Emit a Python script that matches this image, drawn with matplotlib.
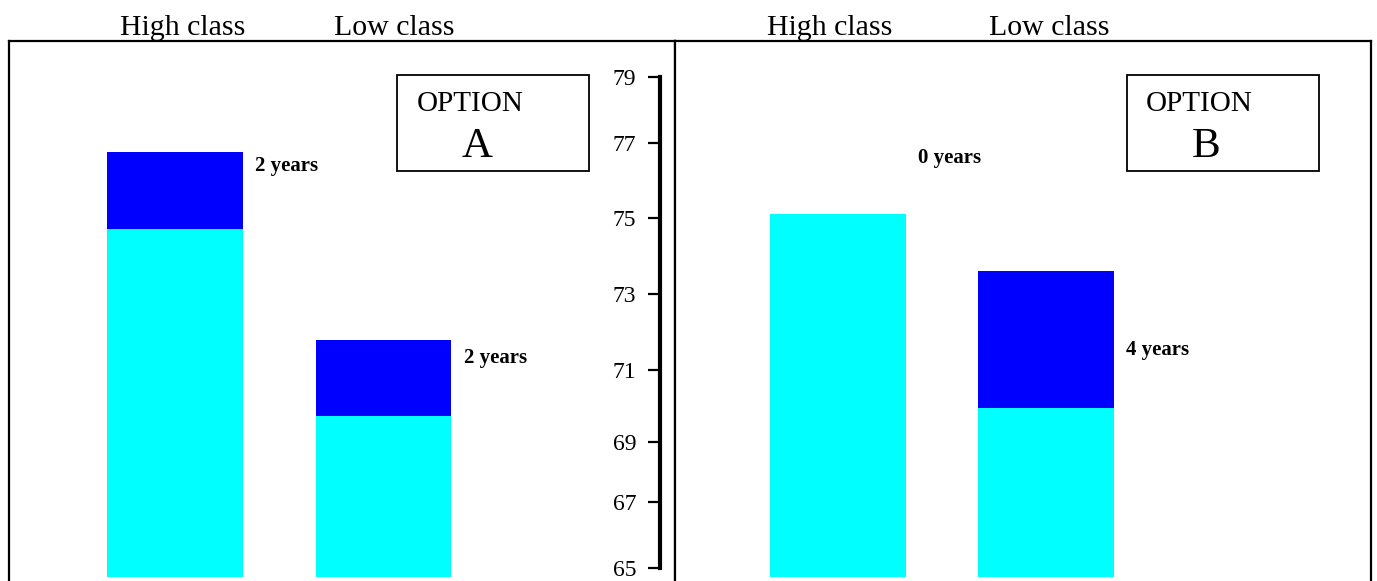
import numpy as np
import matplotlib
matplotlib.use('Agg')
import matplotlib.pyplot as plt
from matplotlib.patches import Rectangle

plt.rcParams['font.family'] = ['Liberation Serif', 'DejaVu Serif']

# data (life expectancy, years)
classes = ['High class', 'Low class']
base_a = [74.7, 69.8]      # option A, before gain
gain_a = [2.05, 2.0]
base_b = [75.1, 70.0]      # option B
gain_b = [0.0, 3.6]
gain_labels_a = ['2 years', '2 years']
gain_labels_b = ['0 years', '4 years']
label_y_a = [76.37, 71.32]
label_y_b = [76.58, 71.53]
floor = 65.55

tick_labels = [65, 67, 69, 71, 73, 75, 77, 79]
tick_pos = [65.79, 67.53, 69.1, 71.0, 73.0, 75.0, 76.97, 78.71]

W, H = 1377, 581
fig = plt.figure(figsize=(W / 100, H / 100), dpi=100)

ylim = (65.447, 79.658)
top = (H - 41) / H
cyan = '#00FFFF'
blue = '#0000FF'
width = 0.65

def panel(x0, x1, base, gain, labels, label_y, xlim, name_shift):
    ax = fig.add_axes([x0 / W, 0, (x1 - x0) / W, top])
    x = np.arange(len(classes))
    b = np.array(base)
    ax.bar(x, b - floor, bottom=floor, width=width, color=cyan, linewidth=0)
    ax.bar(x, gain, bottom=b, width=width, color=blue, linewidth=0)
    for xi, lab, ly in zip(x, labels, label_y):
        ax.text(xi + width / 2 + 0.06, ly, lab, fontsize=15, fontweight='bold',
                ha='left', va='center')
    # class names above the frame
    for xi, name, dx in zip(x, classes, name_shift):
        ax.text(xi + dx, 1.0, name, fontsize=21.5, ha='center', va='bottom',
                transform=ax.get_xaxis_transform())
    ax.set_ylim(*ylim)
    ax.set_xlim(*xlim)
    ax.set_yticks([])
    ax.set_xticks([])
    ax.spines['bottom'].set_visible(False)
    for s in ['left', 'right', 'top']:
        ax.spines[s].set_linewidth(1.6)
    return ax

ax1 = panel(9, 675, base_a, gain_a, gain_labels_a, label_y_a, (-0.796, 2.398), [0.035, 0.05])
ax2 = panel(675, 1371, base_b, gain_b, gain_labels_b, label_y_b, (-0.784, 2.5625), [-0.04, 0.015])

# shared value ruler
axr = fig.add_axes([660 / W, 0, 10 / W, top])
axr.patch.set_alpha(0)
axr.set_ylim(*ylim)
axr.set_xticks([])
for s in ['right', 'top', 'bottom']:
    axr.spines[s].set_visible(False)
axr.spines['left'].set_linewidth(3)
axr.spines['left'].set_bounds(tick_pos[0], tick_pos[-1])
axr.set_yticks(tick_pos)
axr.set_yticklabels([str(t) for t in tick_labels], fontsize=17)
axr.tick_params(axis='y', length=9, width=1.6, pad=8)

# option boxes
def option_box(x, y, w, h, letter, cx):
    fig.add_artist(Rectangle((x / W, 1 - (y + h) / H), w / W, h / H,
                             transform=fig.transFigure, fill=False,
                             edgecolor='black', linewidth=1.3))
    fig.text(cx / W, 1 - 104 / H, 'OPTION', fontsize=21, ha='center', va='center')
    fig.text((cx + 7) / W, 1 - 147 / H, letter, fontsize=31, ha='center', va='center')

option_box(397, 75, 192, 96, 'A', 470)
option_box(1127, 75, 192, 96, 'B', 1199)

fig.savefig('out.png', dpi=100)
